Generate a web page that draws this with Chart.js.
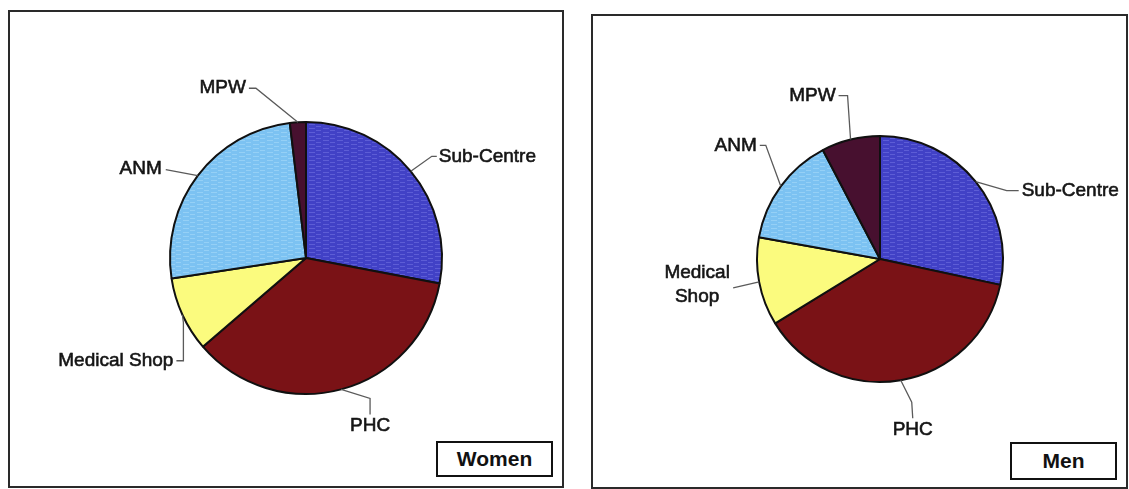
<!DOCTYPE html>
<html>
<head>
<meta charset="utf-8">
<script src="https://cdn.jsdelivr.net/npm/chart.js@4.4.1/dist/chart.umd.min.js"></script>
<style>
  html, body { margin: 0; padding: 0; background: #fff; }
  #page { position: relative; width: 1129px; height: 489px; overflow: hidden; background: #fff; }
  .panel { position: absolute; border: 2px solid #2a2a2a; box-sizing: border-box; }
  .tag { position: absolute; border: 2px solid #111; box-sizing: border-box; background: #fff;
         font: bold 21px "Liberation Sans", Arial, sans-serif; color: #111;
         display: flex; align-items: center; justify-content: center; }
  canvas { position: absolute; left: 0; top: 0; }
</style>
</head>
<body>
<div id="page">
  <div class="panel" style="left:8px; top:10px; width:556px; height:478px;"></div>
  <div class="panel" style="left:591px; top:14px; width:537px; height:475px;"></div>
  <canvas id="womenPie" width="1129" height="489"></canvas>
  <canvas id="menPie" width="1129" height="489"></canvas>
  <div class="tag" style="left:436px; top:441px; width:117px; height:36px;">Women</div>
  <div class="tag" style="left:1010px; top:442px; width:107px; height:38px;">Men</div>
</div>
<script>
// categories, clockwise from 12 o'clock
const categories = ["Sub-Centre", "PHC", "Medical Shop", "ANM", "MPW"];
// share of respondents (%)
const womenValues = [28.0, 35.7, 8.9, 25.5, 1.9];
const menValues = [28.4, 37.9, 11.6, 14.5, 7.7];

// texture like the scanned excel fill
function streaks(base, light) {
  let c = document.createElement("canvas");
  c.width = 14; c.height = 4;
  let g = c.getContext("2d");
  g.fillStyle = base;
  g.fillRect(0, 0, 14, 4);
  g.fillStyle = light;
  g.fillRect(1, 0, 6, 1);
  g.fillRect(8, 2, 5, 1);
  return g.createPattern(c, "repeat");
}

let sliceColors = [
  streaks("#4141c6", "#5d5dd6"),
  "#7a1216",
  "#fbfb7e",
  streaks("#7cc2f2", "#95d0f6"),
  "#47102f"
];

// label callouts: text offset from the slice edge point, plus leader bends
const calloutPlugin = {
  id: "callouts",
  afterDatasetsDraw(chart, args, opts) {
    let ctx = chart.ctx;
    let meta = chart.getDatasetMeta(0);
    ctx.save();
    ctx.font = '19px "Liberation Sans", Arial, sans-serif';
    ctx.textBaseline = "middle";
    meta.data.forEach((arc, i) => {
      let p = arc.getProps(["x", "y", "startAngle", "endAngle", "outerRadius"], true);
      let mid = (p.startAngle + p.endAngle) / 2;
      let ex = p.x + Math.cos(mid) * p.outerRadius;
      let ey = p.y + Math.sin(mid) * p.outerRadius;
      let c = opts.placements[i];
      ctx.strokeStyle = "#5a5a5a";
      ctx.lineWidth = 1.3;
      ctx.beginPath();
      ctx.moveTo(ex, ey);
      c.leader.forEach(pt => ctx.lineTo(ex + pt[0], ey + pt[1]));
      ctx.stroke();
      let name = chart.data.labels[i];
      let lines = c.wrap ? name.split(" ") : [name];
      ctx.fillStyle = "#151515";
      ctx.strokeStyle = "#151515";
      ctx.lineWidth = 0.6;
      ctx.textAlign = c.align;
      let lh = 24;
      let y0 = ey + c.text[1] - (lines.length - 1) * lh / 2;
      lines.forEach((t, k) => {
        ctx.fillText(t, ex + c.text[0], y0 + k * lh);
        ctx.strokeText(t, ex + c.text[0], y0 + k * lh);
      });
    });
    ctx.restore();
  }
};

function makePie(id, values, cx, cy, r, placements) {
  let W = 1129, H = 489;
  return new Chart(document.getElementById(id), {
    type: "pie",
    data: {
      labels: categories,
      datasets: [{
        data: values,
        backgroundColor: sliceColors,
        borderColor: "#101010",
        borderWidth: 2
      }]
    },
    options: {
      responsive: false,
      animation: false,
      devicePixelRatio: 1,
      layout: { padding: { left: cx - r, right: W - cx - r, top: cy - r, bottom: H - cy - r } },
      plugins: {
        legend: { display: false },
        tooltip: { enabled: false },
        callouts: { placements: placements }
      }
    },
    plugins: [calloutPlugin]
  });
}

let womenChart = makePie("womenPie", womenValues, 306, 258, 137, [
  { text: [28, -15], align: "left", leader: [[21, -15], [26, -15]] },
  { text: [29, 36], align: "center", leader: [[29, 9], [29, 25]] },
  { text: [-9, 46], align: "right", leader: [[1, 8], [1, 46], [-6, 46]] },
  { text: [-36, -7], align: "right", leader: [[-32, -6]] },
  { text: [-52, -34], align: "right", leader: [[-42, -34], [-49, -34]] }
]);

let menChart = makePie("menPie", menValues, 880, 259, 124, [
  { text: [46, 9], align: "left", leader: [[31, 9], [43, 9]] },
  { text: [12, 50], align: "center", leader: [[11, 22], [12, 38]] },
  { text: [-62, 3], align: "center", wrap: true, leader: [[-26, 6]] },
  { text: [-24, -41], align: "right", leader: [[-15, -41], [-21, -41]] },
  { text: [-15, -44], align: "right", leader: [[-3, -44], [-12, -44]] }
]);
</script>
</body>
</html>
